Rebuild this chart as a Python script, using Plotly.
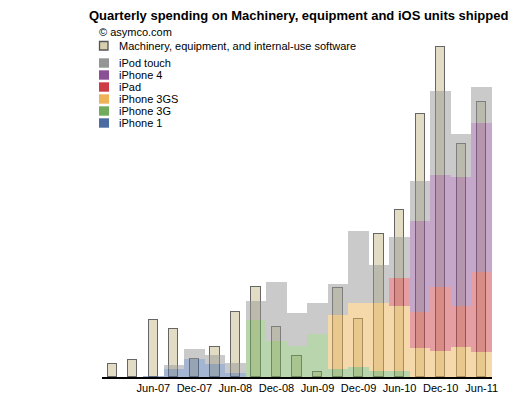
import plotly.graph_objects as go

quarters = ["Dec-06", "Mar-07", "Jun-07", "Sep-07", "Dec-07", "Mar-08", "Jun-08",
            "Sep-08", "Dec-08", "Mar-09", "Jun-09", "Sep-09", "Dec-09", "Mar-10",
            "Jun-10", "Sep-10", "Dec-10", "Mar-11", "Jun-11"]
tick_labels = ["Jun-07", "Dec-07", "Jun-08", "Dec-08", "Jun-09", "Dec-09", "Jun-10", "Dec-10", "Jun-11"]

# Machinery, equipment and internal-use software ($M, estimated)
machinery = [39, 51, 171, 144, 54, 90, 195, 270, 150, 63, 15, 267, 174, 429, 501, 789, 990, 699, 825]

# iOS units shipped (millions, estimated)
iphone1 = [0, 0, 0.15, 0.89, 2.05, 1.47, 0.46, 0, 0, 0, 0, 0, 0, 0, 0, 0, 0, 0, 0]
iphone3g = [0, 0, 0, 0, 0, 0, 0, 6.64, 4.13, 3.55, 4.97, 0.89, 1.12, 0.66, 0.66, 0, 0, 0, 0]
iphone3gs = [0, 0, 0, 0, 0, 0, 0, 0, 0, 0, 0, 6.24, 7.40, 7.86, 7.51, 3.32, 2.97, 3.43, 2.86]
ipad = [0, 0, 0, 0, 0, 0, 0, 0, 0, 0, 0, 0, 0, 0, 3.24, 4.16, 7.40, 4.74, 9.25]
iphone4 = [0, 0, 0, 0, 0, 0, 0, 0, 0, 0, 0, 0, 0, 0, 0, 10.52, 12.95, 14.91, 17.23]
ipod_touch = [0, 0, 0, 0.46, 1.16, 1.04, 1.12, 2.2, 6.82, 3.82, 3.55, 3.58, 8.32, 4.39, 4.74, 4.62, 9.71, 4.97, 4.16]

series_names = ["iPhone 1", "iPhone 3G", "iPhone 3GS", "iPad", "iPhone 4", "iPod touch"]
series_values = [iphone1, iphone3g, iphone3gs, ipad, iphone4, ipod_touch]
series_colors = ["#4a6ca3", "#72ab5c", "#eeb356", "#cc3d45", "#8a4f94", "#959595"]

# page layout (the page body has an 8px margin)
OFF = 8
PLOT_L, PLOT_R, PLOT_T, PLOT_B = 102, 492, 27, 377
W, H = 517 - OFF, 397 - OFF
L = PLOT_L - OFF
R = OFF + W - PLOT_R
T = PLOT_T - OFF
B = OFF + H - PLOT_B
plot_w = PLOT_R - PLOT_L
plot_h = PLOT_B - PLOT_T
UNIT_MAX = plot_h / 8.65
MACH_MAX = plot_h * 3.0


def rgba(hex_color, a):
    h = hex_color.lstrip("#")
    return "rgba(%d,%d,%d,%.2f)" % (int(h[0:2], 16), int(h[2:4], 16), int(h[4:6], 16), a)


def px_x(px):
    return (px - PLOT_L) / plot_w


def px_y(py):
    return (PLOT_B - py) / plot_h


fig = go.Figure()

fig.add_trace(go.Bar(
    x=quarters, y=machinery, width=0.45, yaxis="y",
    marker=dict(color="#e3dcc5", line=dict(color="#666666", width=1.5)),
    name="Machinery, equipment, and internal-use software", showlegend=False,
))

for name, vals, col in zip(series_names, series_values, series_colors):
    fig.add_trace(go.Bar(
        x=quarters, y=vals, width=1.0, yaxis="y2",
        marker=dict(color=rgba(col, 0.5), line=dict(width=0)),
        name=name, showlegend=False,
    ))

fig.update_layout(
    width=W, height=H,
    margin=dict(l=L, r=R, t=T, b=B, pad=0),
    paper_bgcolor="white", plot_bgcolor="white",
    barmode="stack", bargap=0,
    font=dict(family="Liberation Sans, Arial, Helvetica, sans-serif", size=11, color="black"),
    xaxis=dict(
        type="category", categoryorder="array", categoryarray=quarters,
        range=[-0.5, len(quarters) - 0.5],
        tickmode="array", tickvals=tick_labels, ticktext=tick_labels,
        showline=True, linecolor="black", linewidth=1.5, ticks="",
        showgrid=False, zeroline=False, automargin=False,
        tickfont=dict(size=11, color="black"),
    ),
    yaxis=dict(range=[0, MACH_MAX], visible=False, showgrid=False, zeroline=False),
    yaxis2=dict(range=[0, UNIT_MAX], overlaying="y", visible=False,
                showgrid=False, zeroline=False),
    showlegend=False,
)

annotations = []
shapes = []

annotations.append(dict(
    text="<b>Quarterly spending on Machinery, equipment and iOS units shipped</b>",
    xref="paper", yref="paper", x=px_x(87), y=px_y(15), xanchor="left", yanchor="middle",
    showarrow=False, font=dict(size=13, color="black"),
))
annotations.append(dict(
    text="© asymco.com", xref="paper", yref="paper", x=px_x(97), y=px_y(31.5),
    xanchor="left", yanchor="middle", showarrow=False, font=dict(size=11),
))

# machinery legend entry
shapes.append(dict(type="rect", xref="paper", yref="paper",
                   x0=px_x(99.5), x1=px_x(108), y0=px_y(50), y1=px_y(41.5),
                   fillcolor="#d8cfb0", line=dict(color="#555555", width=1.3)))
annotations.append(dict(
    text="Machinery, equipment, and internal-use software", xref="paper", yref="paper",
    x=px_x(117), y=px_y(45.8), xanchor="left", yanchor="middle", showarrow=False,
    font=dict(size=11),
))

legend_names = series_names[::-1]
legend_colors = series_colors[::-1]
for i, (name, col) in enumerate(zip(legend_names, legend_colors)):
    cy = 63 + i * 12
    shapes.append(dict(type="rect", xref="paper", yref="paper",
                       x0=px_x(99), x1=px_x(109), y0=px_y(cy + 4.7), y1=px_y(cy - 4.7),
                       fillcolor=col, line=dict(width=0)))
    annotations.append(dict(
        text=name, xref="paper", yref="paper", x=px_x(117), y=px_y(cy),
        xanchor="left", yanchor="middle", showarrow=False, font=dict(size=11),
    ))

fig.update_layout(annotations=annotations, shapes=shapes)

fig.write_html("out.html")
